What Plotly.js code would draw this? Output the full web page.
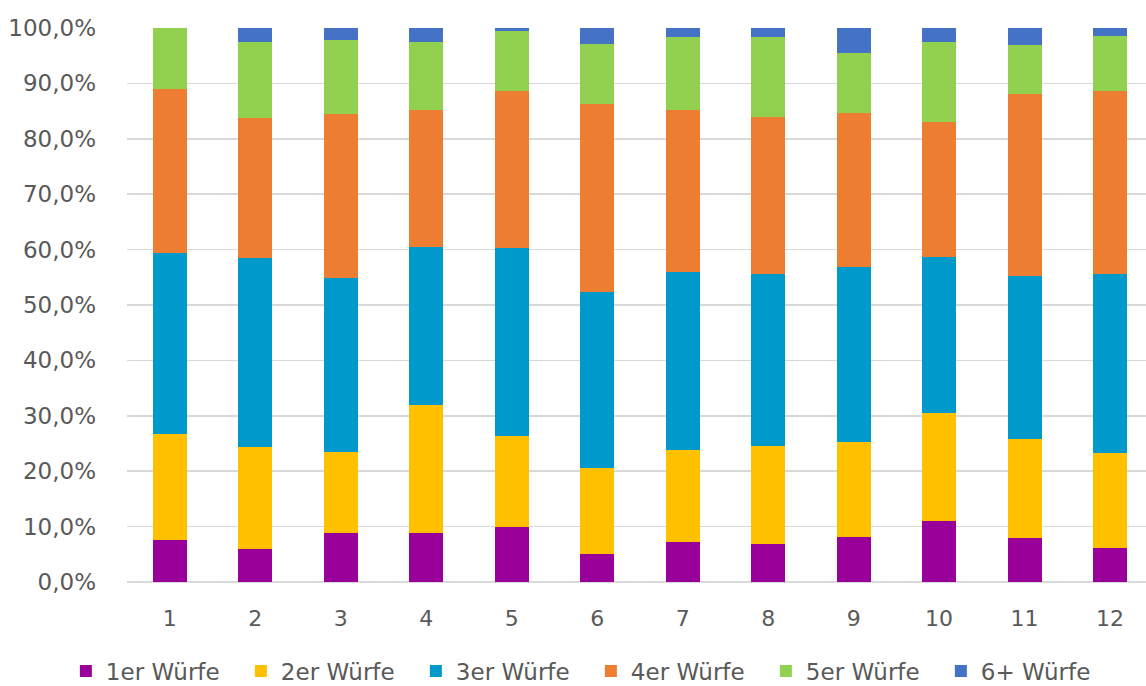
<!DOCTYPE html>
<html>
<head>
<meta charset="utf-8">
<script src="https://cdn.plot.ly/plotly-3.0.1.min.js"></script>
<style>
  html, body { margin: 0; padding: 0; background: #ffffff; }
  #chart { width: 1146px; height: 686px; }
</style>
</head>
<body>
<div id="chart"></div>
<script>
// Anteil der Würfe je Runde (in Prozent, je Runde summiert auf 100)
const runden = [1, 2, 3, 4, 5, 6, 7, 8, 9, 10, 11, 12];

const wuerfe1 = [7.5, 6.0, 8.9, 8.9, 10.0, 5.0, 7.2, 6.8, 8.1, 11.1, 8.0, 6.1];
const wuerfe2 = [19.2, 18.4, 14.6, 23.1, 16.3, 15.5, 16.7, 17.8, 17.2, 19.4, 17.8, 17.2];
const wuerfe3 = [32.6, 34.0, 31.3, 28.4, 33.9, 31.9, 32.0, 31.0, 31.5, 28.2, 29.4, 32.3];
const wuerfe4 = [29.6, 25.3, 29.6, 24.8, 28.4, 33.8, 29.3, 28.4, 27.8, 24.3, 32.8, 33.1];
const wuerfe5 = [11.1, 13.7, 13.5, 12.2, 10.9, 11.0, 13.1, 14.3, 10.8, 14.4, 9.0, 9.9];
const wuerfe6 = [0.0, 2.6, 2.1, 2.6, 0.5, 2.8, 1.7, 1.7, 4.6, 2.6, 3.0, 1.4];

const serienNamen = ['1er Würfe', '2er Würfe', '3er Würfe', '4er Würfe', '5er Würfe', '6+ Würfe'];
const serienWerte = [wuerfe1, wuerfe2, wuerfe3, wuerfe4, wuerfe5, wuerfe6];
const farben = ['#990099', '#FFC000', '#0099CC', '#ED7D31', '#92D050', '#4472C4'];

const yTicks = [0, 10, 20, 30, 40, 50, 60, 70, 80, 90, 100];
const yTickText = yTicks.map(v => v.toFixed(1).replace('.', ',') + '%');

const textFarbe = '#595959';
const schrift = 'DejaVu Sans, sans-serif';

const traces = serienNamen.map((name, i) => ({
  type: 'bar',
  name: name,
  x: runden,
  y: serienWerte[i],
  width: 0.4,
  marker: { color: farben[i], line: { width: 0 } },
  hovertemplate: '%{y:.1f}%<extra>' + name + '</extra>'
}));

const layout = {
  width: 1146,
  height: 686,
  barmode: 'stack',
  paper_bgcolor: '#ffffff',
  plot_bgcolor: '#ffffff',
  margin: { l: 127, r: 0, t: 28, b: 104, pad: 0, autoexpand: false },
  font: { family: schrift, color: textFarbe, size: 23 },
  showlegend: true,
  xaxis: {
    type: 'linear',
    range: [0.5, 12.42],
    tickmode: 'array',
    tickvals: runden,
    ticktext: runden.map(String),
    showgrid: false,
    zeroline: false,
    showline: false,
    ticks: '',
    ticklabelstandoff: 21,
    tickfont: { family: schrift, size: 22, color: textFarbe },
    automargin: false,
    fixedrange: true
  },
  yaxis: {
    range: [0, 100],
    tickmode: 'array',
    tickvals: yTicks,
    ticktext: yTickText,
    showgrid: true,
    gridcolor: '#d9d9d9',
    gridwidth: 1.5,
    zeroline: true,
    zerolinecolor: '#d9d9d9',
    zerolinewidth: 1.5,
    showline: false,
    ticks: '',
    ticklabelstandoff: 30,
    tickfont: { family: schrift, size: 23, color: textFarbe },
    automargin: false,
    fixedrange: true
  },
  legend: {
    orientation: 'h',
    xref: 'paper',
    x: -0.06,
    xanchor: 'left',
    yref: 'paper',
    y: -0.1607,
    yanchor: 'middle',
    entrywidth: 130,
    entrywidthmode: 'pixels',
    traceorder: 'normal',
    font: { family: schrift, size: 23, color: textFarbe },
    itemclick: false,
    itemdoubleclick: false
  }
};

Plotly.newPlot('chart', traces, layout, { displayModeBar: false, staticPlot: true });
</script>
</body>
</html>
